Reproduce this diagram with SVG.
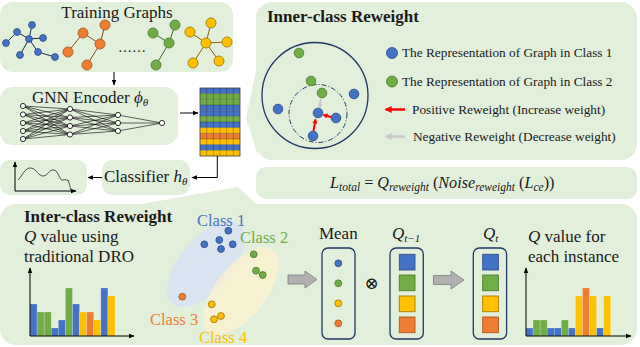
<svg xmlns="http://www.w3.org/2000/svg" width="640" height="347" viewBox="0 0 640 347">
<style>
.panel{fill:#e2efda}
.t{font-family:'Liberation Serif','DejaVu Serif',serif;fill:#1a1a1a}
.b{font-weight:bold}
.i{font-style:italic}
.sub{font-size:11px;font-style:italic}
.msub{font-size:11.5px;font-style:italic}
.nb{fill:#4472c4;stroke:#2f528f;stroke-width:0.9}
.ng{fill:#70ad47;stroke:#507e32;stroke-width:0.9}
.ny{fill:#ffc000;stroke:#a57c00;stroke-width:0.9}
.no{fill:#ed7d31;stroke:#ae5a21;stroke-width:0.9}
.nn{fill:#fff;stroke:#000;stroke-width:0.8}
.ln{stroke:#000;stroke-width:1;fill:none}
.box{fill:none;stroke:#203864;stroke-width:1.3}
.blk{fill:#b0b0b0;stroke:#7f7f7f;stroke-width:0.8}
.bar{stroke:#ffffff;stroke-opacity:0.35;stroke-width:0.6}
</style>
<defs>
<marker id="ah" viewBox="0 0 10 10" refX="9" refY="5" markerWidth="6" markerHeight="6" orient="auto-start-reverse" markerUnits="userSpaceOnUse"><path d="M0,1 L10,5 L0,9 Z" fill="#000"/></marker>
<marker id="ar" viewBox="0 0 10 10" refX="8" refY="5" markerWidth="7" markerHeight="7" orient="auto" markerUnits="userSpaceOnUse"><path d="M0,0 L10,5 L0,10 Z" fill="#ff0000"/></marker>
<marker id="ag" viewBox="0 0 10 10" refX="8" refY="5" markerWidth="7" markerHeight="7" orient="auto" markerUnits="userSpaceOnUse"><path d="M0,0 L10,5 L0,10 Z" fill="#c9c9c9"/></marker>
<marker id="ars" viewBox="0 0 10 10" refX="8" refY="5" markerWidth="5" markerHeight="5" orient="auto" markerUnits="userSpaceOnUse"><path d="M0,0 L10,5 L0,10 Z" fill="#ff0000"/></marker>
<marker id="ags" viewBox="0 0 10 10" refX="8" refY="5" markerWidth="5" markerHeight="5" orient="auto" markerUnits="userSpaceOnUse"><path d="M0,0 L10,5 L0,10 Z" fill="#c9c9c9"/></marker>
</defs>

<!-- Training graphs -->
<g id="training-graphs">
<rect class="panel" x="0" y="2" width="233" height="70" rx="13"/>
<text class="t" x="117" y="18" font-size="17" text-anchor="middle">Training Graphs</text>
<path d="M6,43 L17,32 L29,39 L32,25 M29,39 L43,38 M29,39 L20,55 M29,39 L38,52 L55,57" stroke="#1c2a44" stroke-width="1" fill="none"/>
<circle class="nb" cx="32" cy="25" r="3.4"/><circle class="nb" cx="17" cy="32" r="3.4"/><circle class="nb" cx="6" cy="43" r="3.4"/><circle class="nb" cx="29" cy="39" r="3.4"/><circle class="nb" cx="43" cy="38" r="3.4"/><circle class="nb" cx="20" cy="55" r="3.4"/><circle class="nb" cx="38" cy="52" r="3.4"/><circle class="nb" cx="55" cy="57" r="3.4"/>
<path d="M68,52 L83,33 L100,44 L105,25 M100,44 L87,65" stroke="#8a4a14" stroke-width="1" fill="none"/>
<circle class="no" cx="105" cy="25" r="5"/><circle class="no" cx="83" cy="33" r="5"/><circle class="no" cx="100" cy="44" r="5"/><circle class="no" cx="68" cy="52" r="5"/><circle class="no" cx="87" cy="65" r="5"/>
<text class="t" x="118" y="52" font-size="14">……</text>
<path d="M153,33 L169,43 L175,25 M169,43 L156,65" stroke="#3d6b22" stroke-width="1" fill="none"/>
<circle class="ng" cx="175" cy="25" r="5"/><circle class="ng" cx="153" cy="33" r="5"/><circle class="ng" cx="169" cy="43" r="5"/><circle class="ng" cx="156" cy="65" r="5"/>
<path d="M206,43 L211,23 M206,43 L190,32 M206,43 L227,42 M206,43 L193,63 M206,43 L219,61" stroke="#8a6500" stroke-width="1" fill="none"/>
<circle class="ny" cx="211" cy="23" r="5"/><circle class="ny" cx="190" cy="32" r="5"/><circle class="ny" cx="206" cy="43" r="5"/><circle class="ny" cx="227" cy="42" r="5"/><circle class="ny" cx="193" cy="63" r="5"/><circle class="ny" cx="219" cy="61" r="5"/>
</g>

<!-- GNN encoder -->
<g id="gnn-encoder">
<rect class="panel" x="0" y="87" width="178" height="58" rx="13"/>
<text class="t" x="32" y="103" font-size="17">GNN Encoder <tspan class="i">ϕ</tspan><tspan class="sub" dy="3">θ</tspan></text>
<path stroke="#000" stroke-width="0.6" fill="none" d="M23 106L70 109M23 106L70 117.5M23 106L70 126M23 106L70 134.5M23 114.5L70 109M23 114.5L70 117.5M23 114.5L70 126M23 114.5L70 134.5M23 123L70 109M23 123L70 117.5M23 123L70 126M23 123L70 134.5M23 131L70 109M23 131L70 117.5M23 131L70 126M23 131L70 134.5M23 139L70 109M23 139L70 117.5M23 139L70 126M23 139L70 134.5M70 109L118 115M70 109L118 123M70 109L118 131M70 117.5L118 115M70 117.5L118 123M70 117.5L118 131M70 126L118 115M70 126L118 123M70 126L118 131M70 134.5L118 115M70 134.5L118 123M70 134.5L118 131M118 115L162 123M118 123L162 123M118 131L162 123"/>
<circle class="nn" cx="23" cy="106" r="2.6"/><circle class="nn" cx="23" cy="114.5" r="2.6"/><circle class="nn" cx="23" cy="123" r="2.6"/><circle class="nn" cx="23" cy="131" r="2.6"/><circle class="nn" cx="23" cy="139" r="2.6"/>
<circle class="nn" cx="70" cy="109" r="2.6"/><circle class="nn" cx="70" cy="117.5" r="2.6"/><circle class="nn" cx="70" cy="126" r="2.6"/><circle class="nn" cx="70" cy="134.5" r="2.6"/>
<circle class="nn" cx="118" cy="115" r="2.6"/><circle class="nn" cx="118" cy="123" r="2.6"/><circle class="nn" cx="118" cy="131" r="2.6"/>
<circle class="nn" cx="162" cy="123" r="2.6"/>
</g>

<!-- Embedding matrix -->
<g id="embedding-matrix">
<rect x="200" y="88" width="40" height="5.67" fill="#4472c4"/>
<rect x="200" y="93.67" width="40" height="5.67" fill="#70ad47"/>
<rect x="200" y="99.33" width="40" height="5.67" fill="#70ad47"/>
<rect x="200" y="105" width="40" height="5.67" fill="#4472c4"/>
<rect x="200" y="110.67" width="40" height="5.67" fill="#4472c4"/>
<rect x="200" y="116.33" width="40" height="5.67" fill="#70ad47"/>
<rect x="200" y="122" width="40" height="5.67" fill="#4472c4"/>
<rect x="200" y="127.67" width="40" height="5.67" fill="#ffc000"/>
<rect x="200" y="133.33" width="40" height="5.67" fill="#ed7d31"/>
<rect x="200" y="139" width="40" height="5.67" fill="#ffc000"/>
<rect x="200" y="144.67" width="40" height="5.67" fill="#4472c4"/>
<rect x="200" y="150.33" width="40" height="5.67" fill="#ffc000"/>
<path d="M206.67 88V156M213.33 88V156M220 88V156M226.67 88V156M233.33 88V156M200 93.67H240M200 99.33H240M200 105H240M200 110.67H240M200 116.33H240M200 122H240M200 127.67H240M200 133.33H240M200 139H240M200 144.67H240M200 150.33H240" stroke="#000" stroke-opacity="0.3" stroke-width="0.8"/>
<rect x="200" y="88" width="40" height="68" fill="none" stroke="#404040" stroke-width="0.8"/>
</g>

<!-- Classifier -->
<g id="classifier">
<rect class="panel" x="102" y="160" width="88" height="35" rx="10"/>
<text class="t" x="104" y="182" font-size="17">Classifier <tspan class="i">h</tspan><tspan class="sub" dy="3">θ</tspan></text>
</g>

<!-- Output plot -->
<g id="output-plot">
<rect class="panel" x="0" y="160" width="87" height="35" rx="10"/>
<path d="M15,191 V162" class="ln" marker-end="url(#ah)"/>
<path d="M15,191 H76" class="ln" marker-end="url(#ah)"/>
<path d="M18,180 C21,178 25,167 31,168 C37,169 38,176 43,176 C48,176 49,169 54,170 C59,171 59,181 63,180 C66,179 67,181 68,180 C69,182 70,187 71,190" stroke="#222" stroke-width="0.8" fill="none"/>
</g>

<!-- Inner-class reweight -->
<g id="inner-class-reweight">
<path class="panel" d="M258,62 L246,118 L258,156 Z"/>
<rect class="panel" x="256" y="2" width="381" height="158" rx="16"/>
<text class="t b" x="267" y="22" font-size="17">Inner-class Reweight</text>
<circle cx="315" cy="95.5" r="53" fill="none" stroke="#203864" stroke-width="1.3"/>
<circle cx="318" cy="113.5" r="29" fill="none" stroke="#203864" stroke-width="1" stroke-dasharray="5 2 1 2"/>
<circle class="ng" cx="299" cy="53" r="4.8"/>
<circle class="ng" cx="311" cy="81" r="4.8"/>
<circle class="ng" cx="322" cy="93" r="4.8"/>
<circle class="nb" cx="354" cy="94" r="4.8"/>
<circle class="nb" cx="278" cy="109" r="4.8"/>
<circle class="nb" cx="318" cy="113" r="4.8"/>
<circle class="nb" cx="336" cy="118" r="4.8"/>
<circle class="nb" cx="313" cy="136" r="4.8"/>
<path d="M321,99 L319.5,107.5" stroke="#c9c9c9" stroke-width="2" marker-end="url(#ags)"/>
<path d="M331,117 L323.5,115" stroke="#ff0000" stroke-width="2" marker-end="url(#ars)"/>
<path d="M313.5,131 L315.5,119.5" stroke="#ff0000" stroke-width="2" marker-end="url(#ars)"/>
<circle class="nb" cx="392" cy="53" r="5.5"/>
<text class="t" x="402" y="57" font-size="13.3">The Representation of Graph in Class 1</text>
<circle class="ng" cx="392" cy="81.5" r="5.5"/>
<text class="t" x="402" y="85.5" font-size="13.3">The Representation of Graph in Class 2</text>
<path d="M405,109.5 H386" stroke="#ff0000" stroke-width="2.5" marker-end="url(#ar)"/>
<text class="t" x="412" y="113.5" font-size="13.3">Positive Reweight (Increase weight)</text>
<path d="M405,136.5 H386" stroke="#c9c9c9" stroke-width="2.5" marker-end="url(#ag)"/>
<text class="t" x="413" y="140.5" font-size="13.3">Negative Reweight (Decrease weight)</text>
</g>

<!-- Loss formula -->
<g id="loss-formula">
<rect class="panel" x="256" y="167" width="381" height="32" rx="10"/>
<text class="t" x="330" y="188" font-size="16.2"><tspan class="i">L</tspan><tspan class="msub" dy="3">total</tspan><tspan dy="-3"> = </tspan><tspan class="i">Q</tspan><tspan class="msub" dy="3">reweight</tspan><tspan dy="-3"> (</tspan><tspan class="i">Noise</tspan><tspan class="msub" dy="3">reweight</tspan><tspan dy="-3"> (</tspan><tspan class="i">L</tspan><tspan class="msub" dy="3">ce</tspan><tspan dy="-3">))</tspan></text>
</g>

<!-- Inter-class reweight -->
<g id="inter-class-reweight">
<path class="panel" d="M130,206 L238,187 L258,206 Z"/>
<rect class="panel" x="0" y="204" width="637" height="141" rx="16"/>
<text class="t b" x="24" y="222" font-size="17">Inter-class Reweight</text>
<text class="t" x="24" y="242" font-size="17"><tspan class="i">Q</tspan> value using</text>
<text class="t" x="24" y="262" font-size="17">traditional DRO</text>
</g>

<g id="q-dro-chart">
<rect class="bar" x="30" y="304" width="7.08" height="32" fill="#4472c4"/>
<rect class="bar" x="37.08" y="312" width="7.08" height="24" fill="#70ad47"/>
<rect class="bar" x="44.17" y="312" width="7.08" height="24" fill="#70ad47"/>
<rect class="bar" x="51.25" y="328" width="7.08" height="8" fill="#4472c4"/>
<rect class="bar" x="58.33" y="320" width="7.08" height="16" fill="#4472c4"/>
<rect class="bar" x="65.42" y="288" width="7.08" height="48" fill="#70ad47"/>
<rect class="bar" x="72.5" y="304" width="7.08" height="32" fill="#4472c4"/>
<rect class="bar" x="79.58" y="312" width="7.08" height="24" fill="#ffc000"/>
<rect class="bar" x="86.67" y="312" width="7.08" height="24" fill="#ed7d31"/>
<rect class="bar" x="93.75" y="320" width="7.08" height="16" fill="#ffc000"/>
<rect class="bar" x="100.83" y="288" width="7.08" height="48" fill="#4472c4"/>
<rect class="bar" x="107.92" y="296" width="7.08" height="40" fill="#ffc000"/>
<path d="M30,336 V268" class="ln" marker-end="url(#ah)"/>
<path d="M30,336 H134" class="ln" marker-end="url(#ah)"/>
</g>

<g id="class-clusters">
<ellipse cx="206" cy="264" rx="52" ry="26" transform="rotate(-50 206 264)" fill="#dae3f3" fill-opacity="0.9"/>
<ellipse cx="241" cy="291" rx="52" ry="25" transform="rotate(-52 241 291)" fill="#fff2cc" fill-opacity="0.7"/>
<circle class="nb" cx="228.3" cy="230.7" r="3.4"/>
<circle class="nb" cx="204.3" cy="244.3" r="3.4"/>
<circle class="nb" cx="219.3" cy="240" r="3.4"/>
<circle class="nb" cx="232.7" cy="244.3" r="3.4"/>
<circle class="nb" cx="221" cy="249" r="3.4"/>
<circle class="ng" cx="253.7" cy="254.3" r="3.4"/>
<circle class="ng" cx="256" cy="270.7" r="3.4"/>
<circle class="ng" cx="262.7" cy="275" r="3.4"/>
<circle class="no" cx="182.3" cy="296.7" r="3.4"/>
<circle class="ny" cx="211.7" cy="304.3" r="3.4"/>
<circle class="ny" cx="221" cy="316" r="3.4"/>
<circle class="ny" cx="214" cy="319.3" r="3.4"/>
<text class="t" x="197" y="226" font-size="16.5" style="fill:#4472c4">Class 1</text>
<text class="t" x="240" y="243" font-size="16.5" style="fill:#70ad47">Class 2</text>
<text class="t" x="150" y="325" font-size="16.5" style="fill:#ed7d31">Class 3</text>
<text class="t" x="199" y="343" font-size="16.5" style="fill:#ffc000">Class 4</text>
</g>

<g id="mean">
<text class="t" x="338.3" y="239" font-size="17" text-anchor="middle">Mean</text>
<rect class="box" x="322" y="248" width="33" height="91" rx="6"/>
<circle class="nb" cx="338.3" cy="263.3" r="3.4"/>
<circle class="ng" cx="338.3" cy="283.3" r="3.4"/>
<circle class="ny" cx="338.3" cy="303.3" r="3.4"/>
<circle class="no" cx="338.3" cy="323.3" r="3.4"/>
</g>

<g id="otimes">
<text class="t" x="371.7" y="289" font-size="17" text-anchor="middle">⊗</text>
</g>

<g id="q-prev">
<text class="t" x="392" y="239" font-size="17"><tspan class="i">Q</tspan><tspan class="sub" dy="3">t−1</tspan></text>
<rect class="box" x="390" y="248" width="33.3" height="91" rx="6"/>
<rect class="nb" x="399.3" y="254.3" width="15.7" height="15.7"/>
<rect class="ng" x="399.3" y="275" width="15.7" height="15.7"/>
<rect class="ny" x="399.3" y="296" width="15.7" height="15.7"/>
<rect class="no" x="399.3" y="317" width="15.7" height="15.7"/>
</g>

<g id="q-t">
<text class="t" x="483" y="239" font-size="17"><tspan class="i">Q</tspan><tspan class="sub" dy="3">t</tspan></text>
<rect class="box" x="473.3" y="248" width="33.3" height="91" rx="6"/>
<rect class="nb" x="482.7" y="254.3" width="15.7" height="15.7"/>
<rect class="ng" x="482.7" y="275" width="15.7" height="15.7"/>
<rect class="ny" x="482.7" y="296" width="15.7" height="15.7"/>
<rect class="no" x="482.7" y="317" width="15.7" height="15.7"/>
</g>

<g id="q-instance-chart">
<text class="t" x="528" y="241.7" font-size="17"><tspan class="i">Q</tspan> value for</text>
<text class="t" x="528" y="261.7" font-size="17">each instance</text>
<rect class="bar" x="526" y="328" width="7.06" height="8" fill="#4472c4"/>
<rect class="bar" x="533.06" y="320" width="7.06" height="16" fill="#70ad47"/>
<rect class="bar" x="540.12" y="320" width="7.06" height="16" fill="#70ad47"/>
<rect class="bar" x="547.18" y="328" width="7.06" height="8" fill="#4472c4"/>
<rect class="bar" x="554.24" y="328" width="7.06" height="8" fill="#4472c4"/>
<rect class="bar" x="561.3" y="320" width="7.06" height="16" fill="#70ad47"/>
<rect class="bar" x="568.36" y="328" width="7.06" height="8" fill="#4472c4"/>
<rect class="bar" x="575.42" y="296" width="7.06" height="40" fill="#ffc000"/>
<rect class="bar" x="582.48" y="288" width="7.06" height="48" fill="#ed7d31"/>
<rect class="bar" x="589.54" y="296" width="7.06" height="40" fill="#ffc000"/>
<rect class="bar" x="596.6" y="328" width="7.06" height="8" fill="#4472c4"/>
<rect class="bar" x="603.66" y="296" width="7.06" height="40" fill="#ffc000"/>
<path d="M526,336 V268" class="ln" marker-end="url(#ah)"/>
<path d="M526,336 H631" class="ln" marker-end="url(#ah)"/>
</g>

<!-- Connectors -->
<g id="connectors">
<path d="M114,72 V85" class="ln" marker-end="url(#ah)"/>
<path d="M180,113 H198" class="ln" marker-end="url(#ah)"/>
<path d="M217.3,156 V177.5 H192" class="ln" marker-end="url(#ah)"/>
<path d="M102,177.5 H88" class="ln" marker-end="url(#ah)"/>
<path class="blk" d="M288,275 H305 V271 L317,279.5 L305,288 V284 H288 Z"/>
<path class="blk" d="M433.5,275.5 H451 V271 L464,280 L451,289 V284.5 H433.5 Z"/>
</g>
</svg>
